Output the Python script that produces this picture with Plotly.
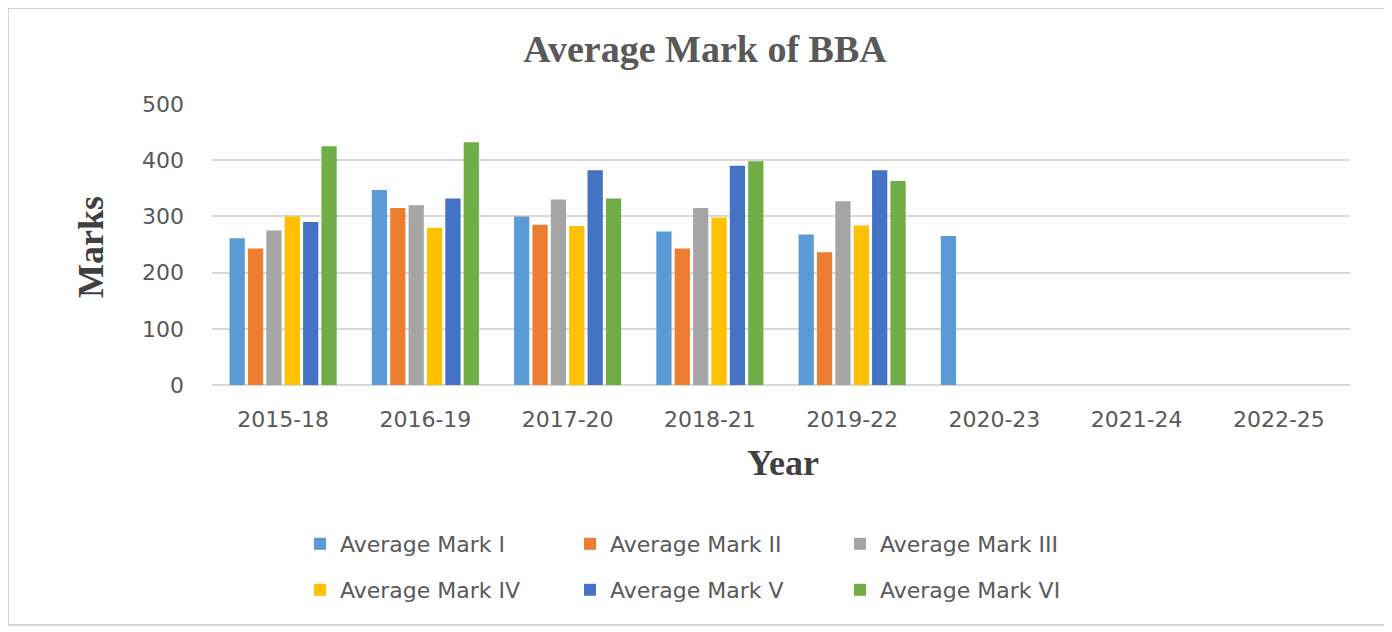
import plotly.graph_objects as go

years = ["2015-18", "2016-19", "2017-20", "2018-21", "2019-22", "2020-23", "2021-24", "2022-25"]
mark_i = [261, 347, 300, 273, 268, 265, None, None]
mark_ii = [243, 315, 285, 243, 236, None, None, None]
mark_iii = [275, 320, 330, 315, 327, None, None, None]
mark_iv = [300, 280, 283, 298, 284, None, None, None]
mark_v = [290, 332, 382, 390, 382, None, None, None]
mark_vi = [425, 432, 332, 398, 363, None, None, None]

series_names = ["Average Mark I", "Average Mark II", "Average Mark III",
                "Average Mark IV", "Average Mark V", "Average Mark VI"]
series_vals = [mark_i, mark_ii, mark_iii, mark_iv, mark_v, mark_vi]
colors = ["#5B9BD5", "#ED7D31", "#A5A5A5", "#FFC000", "#4472C4", "#70AD47"]

fig = go.Figure()
for i, (n, v, c) in enumerate(zip(series_names, series_vals, colors)):
    fig.add_trace(go.Bar(x=years, y=v, name=n, marker=dict(color=c, line=dict(width=0)),
                         legend="legend" if i < 3 else "legend2"))

OFF = 8  # page body margin
W, H = 1392 - OFF, 632 - OFF
L = 212 - OFF
R = W - (1350 - OFF)
T = 104 - OFF
B = H - (385 - OFF)
pw, ph = W - L - R, H - T - B

def px_x(p):
    return (p - OFF - L) / pw

def px_y(p):
    return (H - B - (p - OFF)) / ph

font_fam = "DejaVu Sans"
grey = "#595959"

legend_common = dict(orientation="h", xanchor="left", yanchor="middle",
                     font=dict(family=font_fam, size=22, color=grey),
                     entrywidth=225, bgcolor="rgba(0,0,0,0)", itemclick=False)

fig.update_layout(
    width=W, height=H,
    margin=dict(l=L, r=R, t=T, b=B, autoexpand=False),
    paper_bgcolor="white", plot_bgcolor="white",
    barmode="group", bargap=0.225, bargroupgap=0.17,
    title=dict(text="<b>Average Mark of BBA</b>", x=(705 - OFF) / W, xanchor="center",
               y=1 - (49 - OFF) / H, yanchor="middle", yref="container",
               font=dict(family="Liberation Serif", size=38, color=grey)),
    legend=dict(x=px_x(300), y=px_y(544), **legend_common),
    legend2=dict(x=px_x(300), y=px_y(590), **legend_common),
    xaxis=dict(showgrid=False, showline=False, ticks="", ticklabelstandoff=19,
               tickfont=dict(family=font_fam, size=22, color=grey)),
    yaxis=dict(range=[0, 500], dtick=100, showgrid=True, gridcolor="#D9D9D9", gridwidth=1.5,
               zeroline=True, zerolinecolor="#D9D9D9", zerolinewidth=1.5,
               showline=False, ticks="", ticklabelstandoff=27,
               tickfont=dict(family=font_fam, size=22, color=grey)),
    annotations=[
        dict(text="<b>Marks</b>", x=px_x(91), y=px_y(247), xref="paper", yref="paper",
             textangle=-90, showarrow=False, xanchor="center", yanchor="middle",
             font=dict(family="Liberation Serif", size=36, color="#404040")),
        dict(text="<b>Year</b>", x=px_x(783), y=px_y(463), xref="paper", yref="paper",
             showarrow=False, xanchor="center", yanchor="middle",
             font=dict(family="Liberation Serif", size=36, color="#404040")),
    ],
    shapes=[dict(type="rect", xref="paper", yref="paper",
                 x0=px_x(8), x1=px_x(1385), y0=px_y(625), y1=px_y(8),
                 line=dict(color="#C8C8C8", width=1.5), fillcolor="rgba(0,0,0,0)", layer="below")],
)

fig.write_html("out.html")
